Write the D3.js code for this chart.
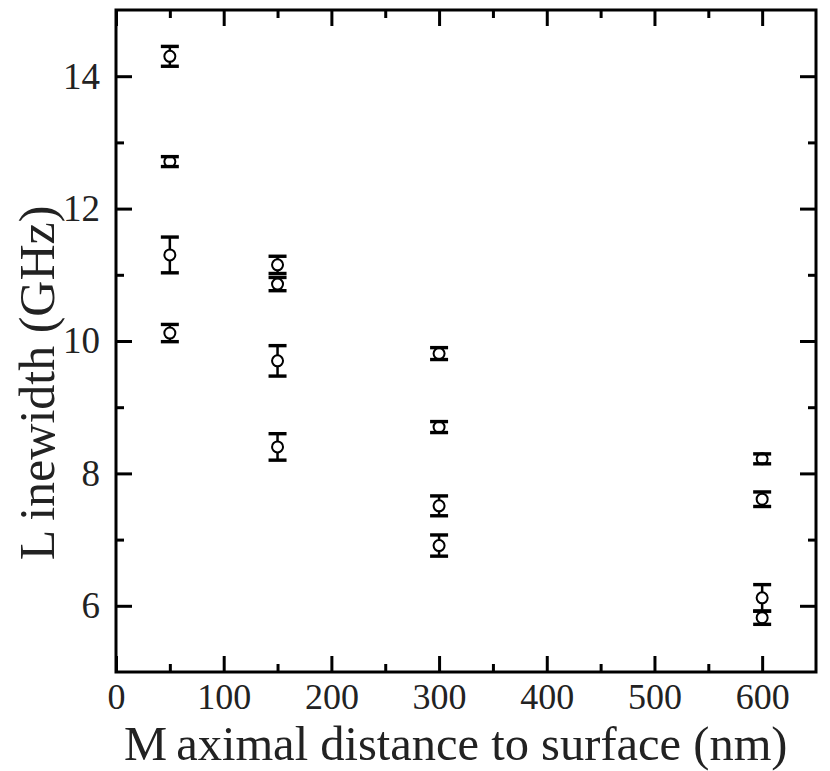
<!DOCTYPE html>
<html><head><meta charset="utf-8">
<script src="https://cdn.jsdelivr.net/npm/d3@7"></script>
<style>body{margin:0;background:#fff}svg{display:block}</style>
</head><body>
<script>
// ---- data ----
const distances = [50, 150, 300, 600];
const series1 = [14.30, 11.15, 9.81, 8.22];
const series1Err = [0.15, 0.13, 0.09, 0.075];
const series2 = [12.71, 10.86, 8.70, 7.61];
const series2Err = [0.075, 0.10, 0.083, 0.11];
const series3 = [11.30, 9.70, 7.51, 6.12];
const series3Err = [0.27, 0.23, 0.15, 0.20];
const series4 = [10.12, 8.40, 6.91, 5.82];
const series4Err = [0.13, 0.20, 0.16, 0.10];
const xTicks = [0, 100, 200, 300, 400, 500, 600];
const yTicks = [6, 8, 10, 12, 14];
const xLabel = "Maximal distance to surface (nm)";
const yLabel = "Linewidth (GHz)";

const W = 830, H = 771;
const L = 116, R = 816, T = 10, B = 672;
const svg = d3.select("body").append("svg").attr("width", W).attr("height", H);
const x = d3.scaleLinear().domain([0, 650]).range([L, R]);
const y = d3.scaleLinear().domain([5, 15]).range([B, T]);
const font = "'Liberation Serif','Times New Roman',serif";

const xMinor = d3.range(50, 650, 100);
const yMinor = d3.range(5, 15, 2).filter(v => v > 5);

function styleAxis(g) {
  g.select(".domain").remove();
  g.selectAll("line").attr("stroke", "#000").attr("stroke-width", 3);
}
// major ticks (inward), all four sides
svg.append("g").attr("transform", `translate(0,${B})`)
  .call(d3.axisBottom(x).tickValues(xTicks).tickSize(-16).tickPadding(11).tickFormat(d3.format("d")))
  .call(styleAxis)
  .call(g => g.selectAll("text").attr("font-family", font).attr("font-size", 36).attr("fill", "#222").attr("dy", "0.71em"));
svg.append("g").attr("transform", `translate(0,${B})`)
  .call(d3.axisBottom(x).tickValues(xMinor).tickSize(-8).tickFormat(""))
  .call(styleAxis);
svg.append("g").attr("transform", `translate(0,${T})`)
  .call(d3.axisTop(x).tickValues(xTicks).tickSize(-16).tickFormat(""))
  .call(styleAxis);
svg.append("g").attr("transform", `translate(0,${T})`)
  .call(d3.axisTop(x).tickValues(xMinor).tickSize(-8).tickFormat(""))
  .call(styleAxis);
svg.append("g").attr("transform", `translate(${L},0)`)
  .call(d3.axisLeft(y).tickValues(yTicks).tickSize(-16).tickPadding(16).tickFormat(d3.format("d")))
  .call(styleAxis)
  .call(g => g.selectAll("text").attr("font-family", font).attr("font-size", 37).attr("fill", "#222"));
svg.append("g").attr("transform", `translate(${L},0)`)
  .call(d3.axisLeft(y).tickValues(yMinor).tickSize(-8).tickFormat(""))
  .call(styleAxis);
svg.append("g").attr("transform", `translate(${R},0)`)
  .call(d3.axisRight(y).tickValues(yTicks).tickSize(-16).tickFormat(""))
  .call(styleAxis);
svg.append("g").attr("transform", `translate(${R},0)`)
  .call(d3.axisRight(y).tickValues(yMinor).tickSize(-8).tickFormat(""))
  .call(styleAxis);

// frame
svg.append("rect").attr("x", L).attr("y", T).attr("width", R - L).attr("height", B - T)
  .attr("fill", "none").attr("stroke", "#000").attr("stroke-width", 3);

// data points
const all = [];
[[series1, series1Err], [series2, series2Err], [series3, series3Err], [series4, series4Err]]
  .forEach(([vals, errs]) => vals.forEach((v, i) => all.push({ x: distances[i], y: v, e: errs[i] })));

const pts = svg.append("g").selectAll("g").data(all).join("g");
pts.append("line")
  .attr("x1", d => x(d.x)).attr("x2", d => x(d.x))
  .attr("y1", d => y(d.y + d.e)).attr("y2", d => y(d.y - d.e))
  .attr("stroke", "#000").attr("stroke-width", 2.5);
pts.append("circle")
  .attr("cx", d => x(d.x)).attr("cy", d => y(d.y)).attr("r", 5.5)
  .attr("fill", "#fff").attr("stroke", "#000").attr("stroke-width", 2);
[1, -1].forEach(s => {
  pts.append("line")
    .attr("x1", d => x(d.x) - 9).attr("x2", d => x(d.x) + 9)
    .attr("y1", d => y(d.y + s * d.e)).attr("y2", d => y(d.y + s * d.e))
    .attr("stroke", "#000").attr("stroke-width", 3.4);
});

// axis titles
svg.append("text").attr("x", 124).attr("y", 760)
  .attr("font-family", font).attr("font-size", 48.5).attr("fill", "#222")
  .call(t => { t.append("tspan").text(xLabel[0]); t.append("tspan").attr("dx", 9).text(xLabel.slice(1)); });
svg.append("text").attr("transform", `translate(54,${383}) rotate(-90)`)
  .attr("text-anchor", "middle")
  .attr("font-family", font).attr("font-size", 50).attr("fill", "#222")
  .call(t => { t.append("tspan").text(yLabel[0]); t.append("tspan").attr("dx", 9).text(yLabel.slice(1)); });
</script>
</body></html>
